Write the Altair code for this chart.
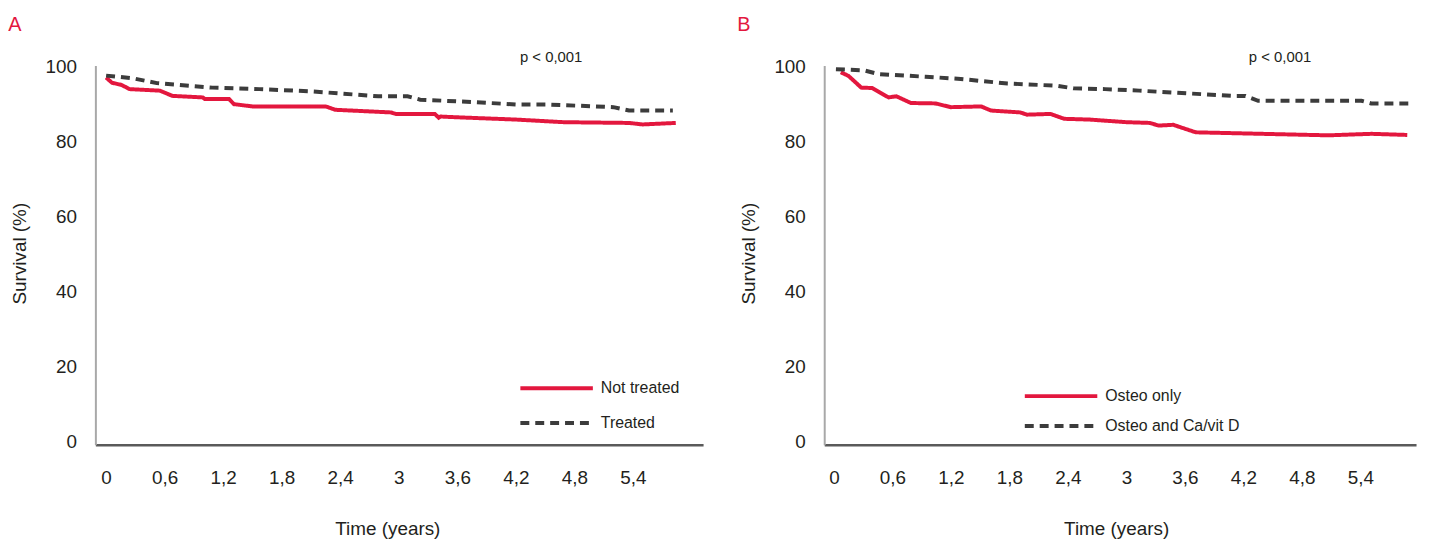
import altair as alt
import pandas as pd

# ---------------- data ----------------
# Panel A
A_NOT_TREATED_T = [0.00, 0.06, 0.16, 0.24, 0.55, 0.68, 0.99, 1.01, 1.26, 1.31, 1.50, 2.25,
                   2.35, 2.92, 2.97, 3.37, 3.41, 3.43, 3.60, 4.20, 4.69, 5.36, 5.50, 5.84]
A_NOT_TREATED_V = [97.8, 96.4, 95.8, 94.7, 94.3, 92.9, 92.5, 92.1, 92.1, 90.7, 90.1, 90.1,
                   89.2, 88.5, 88.1, 88.1, 87.1, 87.4, 87.2, 86.6, 85.9, 85.7, 85.3, 85.7]
A_TREATED_T = [0.00, 0.27, 0.52, 1.09, 1.57, 2.11, 2.79, 3.09, 3.22, 3.80, 4.21, 4.52,
               4.82, 5.20, 5.36, 5.81]
A_TREATED_V = [98.3, 97.6, 96.3, 95.1, 94.7, 94.1, 92.8, 92.8, 91.9, 91.2, 90.6, 90.6,
               90.3, 89.9, 89.0, 89.0]

# Panel B
B_OSTEO_T = [0.07, 0.15, 0.28, 0.39, 0.56, 0.64, 0.79, 1.04, 1.20, 1.51, 1.61, 1.91,
             1.98, 2.22, 2.36, 2.62, 3.00, 3.24, 3.33, 3.48, 3.71, 5.07, 5.51, 5.88]
B_OSTEO_V = [99.2, 98.2, 95.1, 95.0, 92.5, 92.8, 91.0, 90.9, 89.9, 90.1, 89.0, 88.5,
             87.9, 88.1, 86.8, 86.6, 85.9, 85.7, 85.0, 85.2, 83.2, 82.4, 82.8, 82.5]
B_CAD_T = [0.02, 0.31, 0.46, 0.94, 1.30, 1.78, 2.29, 2.46, 2.78, 3.13, 4.09, 4.22,
           4.35, 5.41, 5.51, 5.93]
B_CAD_V = [100.0, 99.7, 98.7, 98.0, 97.4, 96.2, 95.6, 94.9, 94.7, 94.3, 92.9, 92.9,
           91.6, 91.6, 90.9, 90.9]

A_SERIES = ["Not treated", "Treated"]
B_SERIES = ["Osteo only", "Osteo and Ca/vit D"]
X_TICKS = [0, 0.6, 1.2, 1.8, 2.4, 3, 3.6, 4.2, 4.8, 5.4]
Y_TICKS = [0, 20, 40, 60, 80, 100]
P_TEXT = "p < 0,001"

# ---------------- style ----------------
FONT = "Liberation Sans, Arial, sans-serif"
RED = "#e3173e"
DARK = "#3c3c3c"
TEXT = "#231f20"


def frame(series, ts, vs):
    rows = []
    for s, t_list, v_list in zip(series, ts, vs):
        for t, v in zip(t_list, v_list):
            rows.append({"t": t, "v": v, "series": s})
    return pd.DataFrame(rows)


def panel(df, series, letter, width, xdomain, leg_x0, leg_rows):
    color = alt.Color("series:N", scale=alt.Scale(domain=series, range=[RED, DARK]),
                      legend=None)
    dash = alt.StrokeDash("series:N",
                          scale=alt.Scale(domain=series, range=[[1, 0], [9, 6]]),
                          legend=None)
    lines = alt.Chart(df).mark_line(strokeWidth=4, strokeCap="butt").encode(
        x=alt.X("t:Q", scale=alt.Scale(domain=xdomain, nice=False, zero=False),
                axis=alt.Axis(values=X_TICKS, title="Time (years)",
                              labelExpr="replace(format(datum.value, '.1~f'), '.', ',')",
                              grid=False, ticks=False, tickSize=0,
                              labelPadding=33, labelBaseline="middle",
                              domainColor="#5a5a5a", domainWidth=2.5,
                              titleX=294, titleY=84, titleBaseline="middle")),
        y=alt.Y("v:Q", scale=alt.Scale(domain=[0, 101], nice=False),
                axis=alt.Axis(values=Y_TICKS, title="Survival (%)", grid=False,
                              ticks=False, tickSize=0, labelPadding=19, labelOffset=-3,
                              domainColor="#a8a8a8", domainWidth=2,
                              titleX=-76, titleY=189, titleBaseline="middle")),
        color=color,
        strokeDash=dash,
    )

    # legend built from the series names
    leg_df = pd.DataFrame({"series": series})
    leg_y = alt.Y("series:N", scale=alt.Scale(type="point", domain=series,
                                               range=leg_rows, padding=0), axis=None)
    leg_rule = alt.Chart(leg_df).mark_rule(strokeWidth=4, strokeCap="butt").encode(
        x=alt.value(leg_x0), x2=alt.value(leg_x0 + 73), y=leg_y,
        color=color, strokeDash=dash,
    )
    leg_text = alt.Chart(leg_df).mark_text(
        font=FONT, fontSize=16, color=TEXT, align="left", baseline="middle"
    ).encode(x=alt.value(leg_x0 + 81), y=leg_y, text="series:N")

    letter_txt = alt.Chart(pd.DataFrame({"label": [letter]})).mark_text(
        font=FONT, fontSize=20, color=RED, align="center", baseline="middle"
    ).encode(x=alt.value(-81), y=alt.value(-41), text="label:N")
    p_txt = alt.Chart(pd.DataFrame({"label": [P_TEXT]})).mark_text(
        font=FONT, fontSize=15, color=TEXT, align="center", baseline="middle"
    ).encode(x=alt.value(459), y=alt.value(-8), text="label:N")

    legend_layer = alt.layer(leg_rule, leg_text)
    return alt.layer(lines, letter_txt, p_txt, legend_layer).resolve_scale(
        y="independent"
    ).properties(width=width, height=382)


df_a = frame(A_SERIES, [A_NOT_TREATED_T, A_TREATED_T], [A_NOT_TREATED_V, A_TREATED_V])
df_b = frame(B_SERIES, [B_OSTEO_T, B_CAD_T], [B_OSTEO_V, B_CAD_V])

pa = panel(df_a, A_SERIES, "A", 612, [-0.11, 6.12], 428, [325, 360])
pb = panel(df_b, B_SERIES, "B", 596, [-0.10, 5.97], 202, [333, 363])

chart = alt.hconcat(pa, pb, spacing=122, bounds="flush").properties(
    padding={"left": 0, "top": 5, "right": 0, "bottom": 0}
).configure_view(stroke=None).configure_axis(
    labelFont=FONT, labelFontSize=19, labelColor=TEXT,
    titleFont=FONT, titleFontSize=19, titleColor=TEXT, titleFontWeight="normal",
).resolve_scale(color="independent", strokeDash="independent")

chart.save("out.html", embed_options={"renderer": "svg", "actions": False})
